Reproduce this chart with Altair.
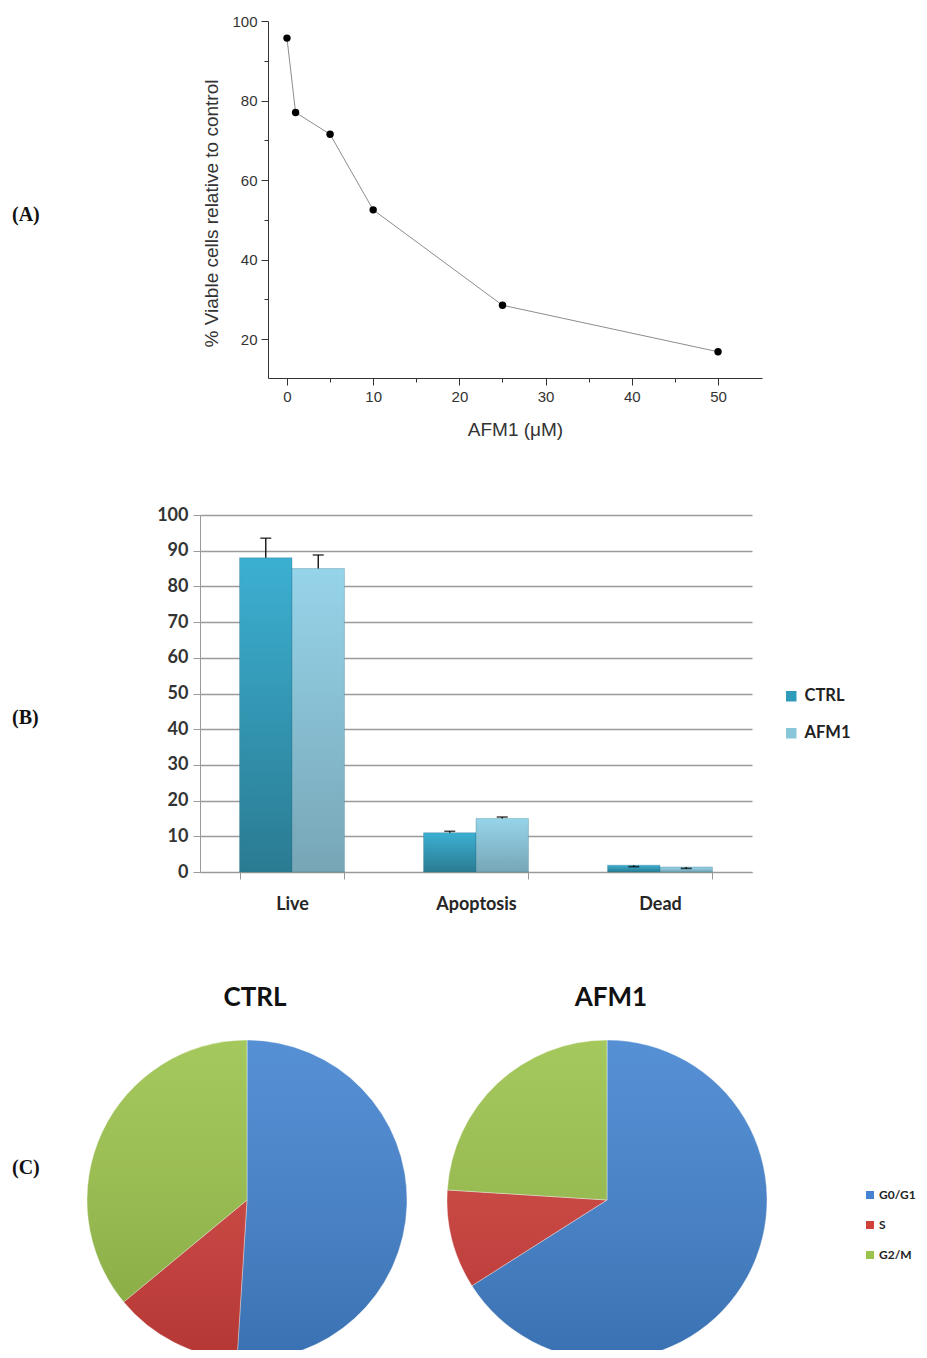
import altair as alt
import pandas as pd

# ---------------- data ----------------
# (A) dose-response
doses = [0, 1, 5, 10, 25, 50]
viability = [95.7, 77.0, 71.5, 52.5, 28.5, 16.8]

# (B) live / apoptosis / dead
categories = ["Live", "Apoptosis", "Dead"]
series = ["CTRL", "AFM1"]
ctrl_vals = [88.0, 11.0, 1.9]
afm1_vals = [85.0, 15.0, 1.4]
ctrl_upper = [93.5, 11.4, 1.5]
afm1_upper = [88.8, 15.4, 1.0]
y_ticks_B = [0, 10, 20, 30, 40, 50, 60, 70, 80, 90, 100]

# (C) cell cycle
phases = ["G0/G1", "S", "G2/M"]
ctrl_pct = [51, 13, 36]
afm1_pct = [66, 10, 24]

W, H = 911, 1342
SANS = "Liberation Sans"
CAL = "Lato"

dfA = pd.DataFrame({"dose": doses, "viab": viability})
dfB = pd.DataFrame({
    "cat": categories * 2,
    "series": ["CTRL"] * 3 + ["AFM1"] * 3,
    "val": ctrl_vals + afm1_vals,
    "upper": ctrl_upper + afm1_upper,
})
dfC1 = pd.DataFrame({"phase": phases, "pct": ctrl_pct, "ord": [0, 1, 2]})
dfC2 = pd.DataFrame({"phase": phases, "pct": afm1_pct, "ord": [0, 1, 2]})

# ---------------- panel A ----------------
xA = lambda: alt.Scale(domain=[-2.2, 55.1], range=[260, 754], nice=False, zero=False)
yA = lambda: alt.Scale(domain=[10.2, 100], range=[370, 13], nice=False, zero=False)

axA_x = alt.Axis(
    orient="bottom", offset=370 - H, values=list(range(0, 55, 5)),
    labelExpr="datum.value % 10 == 0 ? datum.label : ''",
    tickSize={"condition": {"test": "datum.value % 10 == 0", "value": 7}, "value": 4},
    domainColor="#333333", tickColor="#333333", labelColor="#333333",
    labelFont=SANS, labelFontSize=15, labelPadding=4, grid=False,
    title="AFM1 (\u03bcM)", titleFont=SANS, titleFontSize=19, titleFontWeight="normal",
    titleColor="#333333", titlePadding=16,
)
axA_y = alt.Axis(
    orient="left", offset=-260, values=list(range(20, 101, 10)),
    labelExpr="datum.value % 20 == 0 ? datum.label : ''",
    tickSize={"condition": {"test": "datum.value % 20 == 0", "value": 7}, "value": 4},
    domainColor="#333333", tickColor="#333333", labelColor="#333333",
    labelFont=SANS, labelFontSize=15, labelPadding=4, grid=False,
    title="% Viable cells relative to control", titleFont=SANS, titleFontSize=19,
    titleFontWeight="normal", titleColor="#333333", titlePadding=10, titleY=205,
)

lineA = alt.Chart(dfA).mark_line(color="#8c8c8c", strokeWidth=1).encode(
    x=alt.X("dose:Q", scale=xA(), axis=axA_x),
    y=alt.Y("viab:Q", scale=yA(), axis=axA_y),
)
ptsA = alt.Chart(dfA).mark_circle(size=55, color="black", opacity=1).encode(
    x=alt.X("dose:Q", scale=xA(), axis=None),
    y=alt.Y("viab:Q", scale=yA(), axis=None),
)

# ---------------- panel B ----------------
xB = lambda: alt.Scale(domain=categories, range=[192, 744], paddingInner=0.43, paddingOuter=0.215)
yB = lambda: alt.Scale(domain=[0, 100], range=[864, 507], nice=False, zero=False)
oB = lambda: alt.Scale(domain=series)

axB_x = alt.Axis(
    orient="bottom", offset=864 - H, tickBand="extent", tickSize=7,
    tickColor="#9a9a9a", domainColor="#9a9a9a", labelAngle=0,
    labelFont=CAL, labelFontWeight="bold", labelFontSize=18, labelColor="#262626",
    labelPadding=16, title=None, grid=False,
)
axB_y = alt.Axis(
    orient="left", offset=-192, values=y_ticks_B, grid=True,
    gridColor="#9a9a9a", gridWidth=1.3, domainColor="#9a9a9a", tickColor="#9a9a9a",
    tickSize=7, labelFont=CAL, labelFontWeight="bold", labelFontSize=18,
    labelColor="#333333", labelPadding=5, title=None,
)

gradC = alt.LinearGradient(
    gradient="linear",
    stops=[alt.GradientStop(color="#3cb0d2", offset=0), alt.GradientStop(color="#2a7b92", offset=1)],
    x1=0, x2=0, y1=0, y2=1,
)
gradA = alt.LinearGradient(
    gradient="linear",
    stops=[alt.GradientStop(color="#96d4ea", offset=0), alt.GradientStop(color="#77a6b6", offset=1)],
    x1=0, x2=0, y1=0, y2=1,
)


def bars(name, grad, ax_x, ax_y):
    return alt.Chart(dfB).transform_filter(f"datum.series == '{name}'").mark_bar(
        color=grad, stroke="#2a6f83", strokeWidth=0.5, strokeOpacity=0.6
    ).encode(
        x=alt.X("cat:N", scale=xB(), axis=ax_x, sort=categories),
        xOffset=alt.XOffset("series:N", scale=oB(), sort=series),
        y=alt.Y("val:Q", scale=yB(), axis=ax_y),
    )


barsC = bars("CTRL", gradC, axB_x, axB_y)
barsA = bars("AFM1", gradA, None, None)

errB = alt.Chart(dfB).mark_rule(color="black", strokeWidth=1.3).encode(
    x=alt.X("cat:N", scale=xB(), axis=None, sort=categories),
    xOffset=alt.XOffset("series:N", scale=oB(), sort=series),
    y=alt.Y("val:Q", scale=yB(), axis=None),
    y2="upper:Q",
)
capB = alt.Chart(dfB).mark_tick(color="black", size=11, thickness=1.6).encode(
    x=alt.X("cat:N", scale=xB(), axis=None, sort=categories),
    xOffset=alt.XOffset("series:N", scale=oB(), sort=series),
    y=alt.Y("upper:Q", scale=yB(), axis=None),
)
legB = alt.Chart(dfB).mark_square(opacity=0, size=1).encode(
    x=alt.value(-50), y=alt.value(-50),
    color=alt.Color(
        "series:N",
        scale=alt.Scale(domain=series, range=["#2f9bba", "#88c6da"]),
        legend=alt.Legend(
            orient="none", legendX=775, legendY=680, title=None, symbolType="square",
            symbolSize=110, symbolOpacity=1, symbolStrokeWidth=0, padding=0,
            labelFont=CAL, labelFontWeight="bold", labelFontSize=16.5, labelColor="#222222",
            rowPadding=20, labelOffset=5,
        ),
    ),
)

# ---------------- panel C ----------------
pie_colors = ["#4383cf", "#d2403c", "#9bc24b"]
shade = alt.LinearGradient(
    gradient="linear",
    stops=[alt.GradientStop(color="rgba(255,255,255,0.10)", offset=0),
           alt.GradientStop(color="rgba(0,0,0,0.14)", offset=1)],
    x1=0, x2=0, y1=0, y2=1,
)


def pie(df, cx, cy, legend):
    return alt.Chart(df).mark_arc(outerRadius=160, stroke="#ffffff", strokeWidth=0.6, strokeOpacity=0.7).encode(
        theta=alt.Theta("pct:Q", stack=True),
        order=alt.Order("ord:Q"),
        color=alt.Color("phase:N", scale=alt.Scale(domain=phases, range=pie_colors), sort=phases, legend=legend),
        x=alt.value(cx), y=alt.value(cy),
    )


legC = alt.Legend(
    orient="none", legendX=856, legendY=1181, title=None, symbolType="square",
    symbolSize=64, symbolStrokeWidth=0, padding=0, labelFont=CAL, labelFontWeight="bold",
    labelFontSize=12, labelColor="#222222", rowPadding=18, labelOffset=3,
)
pie1 = pie(dfC1, 239, 1192, legC)
pie2 = pie(dfC2, 599, 1192, None)
shade1 = alt.Chart(pd.DataFrame({"v": [1]})).mark_arc(outerRadius=160, fill=shade).encode(
    theta=alt.Theta("v:Q"), x=alt.value(239), y=alt.value(1192))
shade2 = alt.Chart(pd.DataFrame({"v": [1]})).mark_arc(outerRadius=160, fill=shade).encode(
    theta=alt.Theta("v:Q"), x=alt.value(599), y=alt.value(1192))

pie_titles = alt.Chart(pd.DataFrame({"t": series, "px": [247, 603]})).mark_text(
    font=CAL, fontWeight="bold", fontSize=26, color="#111111", baseline="middle", align="center"
).encode(text="t:N", x=alt.X("px:Q", scale=alt.Scale(domain=[0, W], range=[0, W]), axis=None),
         y=alt.value(990))

# ---------------- panel labels ----------------
labels = alt.Chart(pd.DataFrame({"t": ["(A)", "(B)", "(C)"], "py": [207, 710, 1160]})).mark_text(
    font="Liberation Serif", fontWeight="bold", fontSize=20, color="#111111", align="left", baseline="middle"
).encode(text="t:N", x=alt.value(4),
         y=alt.Y("py:Q", scale=alt.Scale(domain=[0, H], range=[0, H]), axis=None))

chart = alt.layer(
    lineA, ptsA, barsC, barsA, errB, capB, legB, pie1, pie2, shade1, shade2, pie_titles, labels
).resolve_scale(
    x="independent", y="independent", xOffset="independent", theta="independent", color="independent"
).resolve_axis(
    x="independent", y="independent"
).resolve_legend(
    color="independent"
).properties(
    width=W, height=H, autosize=alt.AutoSizeParams(type="none"), padding=0
).configure_view(strokeWidth=0)

chart.save("out.html", embed_options={"renderer": "svg", "actions": False})
